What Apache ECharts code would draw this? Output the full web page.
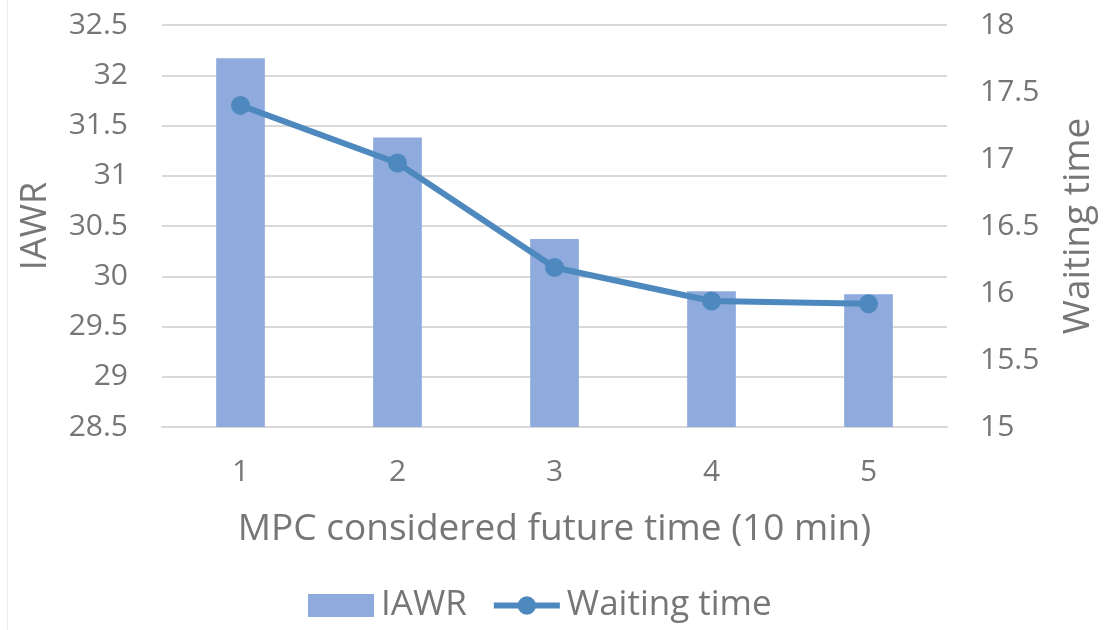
<!DOCTYPE html>
<html>
<head>
<meta charset="utf-8">
<script src="https://cdn.jsdelivr.net/npm/echarts@6/dist/echarts.min.js"></script>
<style>
html,body{margin:0;padding:0;background:#fff;}
#chart{width:1105px;height:630px;}
</style>
</head>
<body>
<div id="chart"></div>
<script>
const categories = ['1', '2', '3', '4', '5'];
const iawr = [32.17, 31.38, 30.37, 29.85, 29.82];
const waitingTime = [17.40, 16.97, 16.19, 15.94, 15.92];
const leftTicks = { min: 28.5, max: 32.5, interval: 0.5 };
const rightTicks = { min: 15, max: 18, interval: 0.5 };

const textColor = '#767676';
const font = 'Open Sans';
const lineColor = '#4d89be';
const chart = echarts.init(document.getElementById('chart'), null, { renderer: 'canvas' });
chart.setOption({
  backgroundColor: '#fff',
  animation: false,
  graphic: [{
    type: 'line', shape: { x1: 7.5, y1: 0, x2: 7.5, y2: 630 },
    style: { stroke: '#eeeeee', lineWidth: 1 }
  }],
  grid: { left: 162, right: 158, top: 25, bottom: 203 },
  legend: {
    left: 308, top: 588, padding: 0,
    itemWidth: 66, itemHeight: 23, itemGap: 24,
    textStyle: { color: textColor, fontFamily: font, fontSize: 35, padding: [0, 0, 0, 2] },
    data: [
      { name: 'IAWR', icon: 'rect' },
      { name: 'Waiting time', lineStyle: { width: 6, color: lineColor } }
    ]
  },
  xAxis: {
    type: 'category',
    data: categories,
    name: 'MPC considered future time (10 min)',
    nameLocation: 'middle',
    nameGap: 84,
    nameTextStyle: { color: textColor, fontFamily: font, fontSize: 37 },
    axisLine: { show: true, lineStyle: { color: '#d9d9d9', width: 2 } },
    axisTick: { show: false },
    axisLabel: { color: textColor, fontFamily: font, fontSize: 30, margin: 30 }
  },
  yAxis: [{
    type: 'value',
    min: leftTicks.min, max: leftTicks.max, interval: leftTicks.interval,
    name: 'IAWR',
    nameLocation: 'middle',
    nameGap: 108,
    nameRotate: 90,
    nameTextStyle: { color: textColor, fontFamily: font, fontSize: 36 },
    axisLine: { show: false },
    axisTick: { show: false },
    axisLabel: { color: textColor, fontFamily: font, fontSize: 30, margin: 34 },
    splitLine: { show: true, lineStyle: { color: '#d9d9d9', width: 2 } }
  }, {
    type: 'value',
    position: 'right',
    min: rightTicks.min, max: rightTicks.max, interval: rightTicks.interval,
    name: 'Waiting time',
    nameLocation: 'middle',
    nameGap: 113,
    nameRotate: 90,
    nameTextStyle: { color: textColor, fontFamily: font, fontSize: 37 },
    axisLine: { show: false },
    axisTick: { show: false },
    axisLabel: { color: textColor, fontFamily: font, fontSize: 30, margin: 33 },
    splitLine: { show: false }
  }],
  series: [{
    name: 'IAWR',
    type: 'bar',
    data: iawr,
    barWidth: '31%',
    itemStyle: { color: '#8faadc' }
  }, {
    name: 'Waiting time',
    type: 'line',
    yAxisIndex: 1,
    data: waitingTime,
    symbol: 'circle',
    symbolSize: 19,
    lineStyle: { color: lineColor, width: 6 },
    itemStyle: { color: lineColor }
  }]
});
</script>
</body>
</html>
